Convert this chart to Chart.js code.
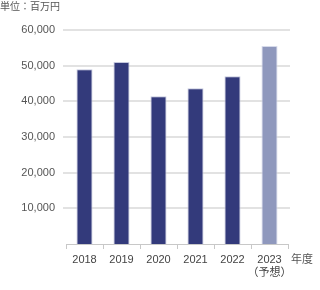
<!DOCTYPE html>
<html>
<head>
<meta charset="utf-8">
<script src="https://cdn.jsdelivr.net/npm/chart.js@4"></script>
<style>
  html, body { margin: 0; padding: 0; background: #fff; }
  #wrap { width: 320px; height: 290px; }
</style>
</head>
<body>
<div id="wrap"><canvas id="myChart" width="320" height="290"></canvas></div>
<script>
let years = ['2018', '2019', '2020', '2021', '2022', ['2023', '（予想）']];
let sales = [49000, 51000, 41400, 43700, 47000, 55500];
let barColors = ['#333a7b', '#333a7b', '#333a7b', '#333a7b', '#333a7b', '#8f98bd'];
let edgeColors = ['#c5c8de', '#c5c8de', '#c5c8de', '#c5c8de', '#c5c8de', '#d6daea'];

let fontFamily = '"Liberation Sans", "Noto Sans CJK JP", sans-serif';

// horizontal grid lines run a bit past the plot area, like the original
let gridLines = {
    id: 'gridLines',
    beforeDatasetsDraw(chart) {
        let c = chart.ctx;
        let y = chart.scales.y;
        c.save();
        c.strokeStyle = '#e2e2e2';
        c.lineWidth = 2;
        y.ticks.forEach((t) => {
            if (t.value === 0) return;
            let py = Math.round(y.getPixelForValue(t.value));
            c.beginPath();
            c.moveTo(63, py);
            c.lineTo(290, py);
            c.stroke();
        });
        c.restore();
    }
};

let extraText = {
    id: 'extraText',
    afterDraw(chart) {
        let c = chart.ctx;
        c.save();
        c.fillStyle = '#555';
        c.font = '10px ' + fontFamily;
        c.textBaseline = 'middle';
        c.textAlign = 'left';
        c.fillText('単位：百万円', 0, 7);
        c.font = '11px ' + fontFamily;
        c.fillText('年度', 291, 260);
        c.restore();
    }
};

let ctx = document.getElementById('myChart').getContext('2d');
let myChart = new Chart(ctx, {
    type: 'bar',
    data: {
        labels: years,
        datasets: [{
            data: sales,
            backgroundColor: barColors,
            borderColor: edgeColors,
            borderWidth: 1,
            barPercentage: 0.435,
            categoryPercentage: 1
        }]
    },
    options: {
        responsive: false,
        animation: false,
        layout: { padding: { top: 30, right: 32, left: 0, bottom: 0 } },
        plugins: {
            legend: { display: false },
            tooltip: { enabled: false }
        },
        scales: {
            x: {
                afterFit: (s) => { s.height = 46; },
                grid: {
                    drawOnChartArea: false,
                    drawTicks: true,
                    tickLength: 5,
                    color: '#c8c8c8'
                },
                border: { color: '#c8c8c8', width: 1 },
                ticks: {
                    color: '#444',
                    padding: 4,
                    autoSkip: false,
                    maxRotation: 0,
                    minRotation: 0,
                    font: { family: fontFamily, size: 11, lineHeight: 1.2 }
                }
            },
            y: {
                min: 0,
                max: 60000,
                afterFit: (s) => { s.width = 66; },
                grid: { display: false, drawTicks: false },
                border: { display: false },
                ticks: {
                    stepSize: 10000,
                    padding: 11,
                    color: '#555',
                    font: { family: fontFamily, size: 11 },
                    callback: (v) => v === 0 ? '' : v.toLocaleString('en-US')
                }
            }
        }
    },
    plugins: [gridLines, extraText]
});
</script>
</body>
</html>
